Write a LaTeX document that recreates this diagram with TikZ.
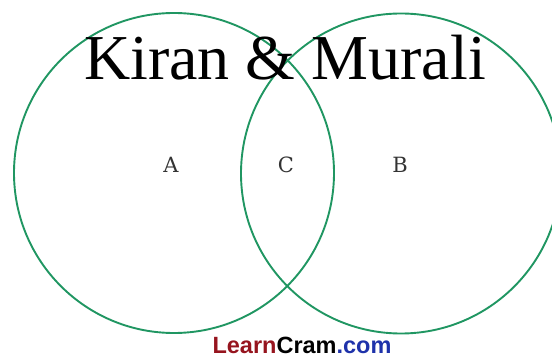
\documentclass[tikz,border=0pt]{standalone}
\usepackage{fontspec}
\setmainfont{Liberation Serif}
\newfontfamily\wmfont{Liberation Sans}
\newfontfamily\regionfont{DejaVu Serif}
\definecolor{venngreen}{RGB}{32,150,98}
\definecolor{wmred}{RGB}{150,20,30}
\definecolor{wmblue}{RGB}{30,50,170}
\tikzset{
  venn/.style={draw=venngreen, line width=1.9pt},
  region/.style={font=\regionfont\fontsize{21}{21}\selectfont, text=black!80},
}
\begin{document}
\begin{tikzpicture}[x=1pt,y=-1pt]
\useasboundingbox (0,0) rectangle (552,358);
\clip (0,0) rectangle (552,358);
\draw[venn] (174,173) circle[radius=160];
\draw[venn] (401,173.5) circle[radius=160];
\node[anchor=base, font=\fontsize{64}{64}\selectfont, inner sep=0pt] (title) at (285,80) {Kiran \& Murali};
\node[region] (A) at (171,165) {A};
\node[region] (C) at (286,165) {C};
\node[region] (B) at (400,165) {B};
\node[anchor=base, inner sep=0pt, font=\wmfont\bfseries\fontsize{23.5}{23.5}\selectfont] (wm) at (302,353)
  {\textcolor{wmred}{Learn}\textcolor{black}{Cram}\textcolor{wmblue}{.com}};
\end{tikzpicture}
\end{document}
